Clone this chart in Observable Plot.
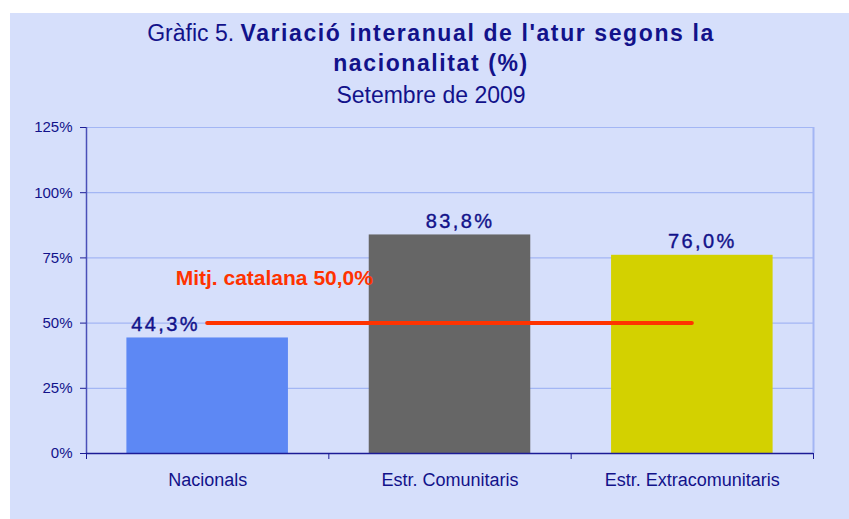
<!DOCTYPE html>
<html><head><meta charset="utf-8">
<script src="https://cdn.jsdelivr.net/npm/d3@7"></script>
<script src="https://cdn.jsdelivr.net/npm/@observablehq/plot@0.6"></script>
<style>
html,body{margin:0;padding:0;background:#fff;width:849px;height:519px;overflow:hidden;}
#panel{position:absolute;left:10px;top:13px;width:839px;height:506px;background:#d6dffb;font-family:"Liberation Sans",Arial,sans-serif;color:#12128a;}
.t{position:absolute;left:0;width:842px;text-align:center;white-space:nowrap;font-size:23px;line-height:23px;}
.b{font-weight:bold;letter-spacing:1.6px;}
#chart{position:absolute;left:0;top:99px;}
</style></head>
<body>
<div id="panel">
  <div class="t" style="top:9px">Gràfic 5. <span class="b">Variació interanual de l'atur segons la</span></div>
  <div class="t b" style="top:39px">nacionalitat (%)</div>
  <div class="t" style="top:71px">Setembre de 2009</div>
  <div id="chart"></div>
</div>
<script>
const categories = ["Nacionals", "Estr. Comunitaris", "Estr. Extracomunitaris"];
const values = [0.443, 0.838, 0.760];
const valueLabels = ["44,3%", "83,8%", "76,0%"];
const average = 0.50;
const averageLabel = "Mitj. catalana 50,0%";
const yTicks = [0, 0.25, 0.5, 0.75, 1.0, 1.25];
const yTickLabels = ["0%", "25%", "50%", "75%", "100%", "125%"];

const barColors = ["#5d88f4", "#666666", "#d3d100"];
const navy = "#12128a";
const gridColor = "#a3b6f4";
const red = "#ff3300";

const rows = categories.map((c, i) => ({i, category: c, value: values[i], label: valueLabels[i]}));
const boundaries = d3.range(categories.length + 1);
const centers = categories.map((c, i) => i + 0.5);

const chart = Plot.plot({
  width: 839,
  height: 400,
  marginLeft: 76,
  marginRight: 36,
  marginTop: 15,
  marginBottom: 59,
  style: {background: "transparent", fontFamily: "'Liberation Sans', Arial, sans-serif", color: navy, overflow: "visible"},
  x: {domain: [0, categories.length], axis: null},
  y: {domain: [0, 1.25], axis: null},
  color: {type: "identity"},
  marks: [
    Plot.ruleY(yTicks.filter(d => d > 0), {stroke: gridColor, strokeWidth: 1.2}),
    Plot.ruleX([categories.length], {y1: 0, y2: yTicks[yTicks.length - 1], stroke: gridColor, strokeWidth: 2}),
    Plot.rectY(rows, {x1: d => d.i, x2: d => d.i + 1, y: "value", fill: d => barColors[d.i], insetLeft: 40.4, insetRight: 40.4}),
    Plot.ruleY([average], {x1: rows[0].i + 0.5, x2: rows[rows.length - 1].i + 0.5, stroke: red, strokeWidth: 4, strokeLinecap: "round"}),
    Plot.text([averageLabel], {x: rows[0].i + 0.5, y: average, text: d => d, textAnchor: "start", lineAnchor: "bottom", dx: -32, dy: -38, fill: red, fontSize: 21, fontWeight: "bold"}),
    Plot.text(rows.slice(0, 1), {x: d => d.i + 0.5, y: "value", text: "label", lineAnchor: "bottom", dx: -42, dy: -7, fill: navy, fontSize: 20, stroke: navy, strokeWidth: 0.4}),
    Plot.text(rows.slice(1), {x: d => d.i + 0.5, y: "value", text: "label", lineAnchor: "bottom", dx: 10, dy: -7, fill: navy, fontSize: 20, stroke: navy, strokeWidth: 0.4}),
    Plot.ruleX([0], {y1: 0, y2: yTicks[yTicks.length - 1], stroke: "#4a4fb8", strokeWidth: 1.5}),
    Plot.ruleY([0], {stroke: "#1c1c96", strokeWidth: 1.5}),
    Plot.axisY({ticks: yTicks, tickFormat: d => yTickLabels[yTicks.indexOf(d)], tickSize: 6, tickPadding: 8, fontSize: 15, stroke: "#1c1c96", fill: navy, label: null}),
    Plot.axisX({ticks: boundaries, tickFormat: () => "", tickSize: 6, stroke: "#1c1c96", label: null}),
    Plot.axisX({ticks: centers, tickFormat: d => categories[Math.floor(d)], tickSize: 0, tickPadding: 20, fontSize: 18, fill: navy, label: null})
  ]
});
d3.select(chart).selectAll("text").filter(function() { return valueLabels.includes(this.textContent); })
  .style("letter-spacing", "2.4px");
document.getElementById("chart").appendChild(chart);
</script>
</body></html>
